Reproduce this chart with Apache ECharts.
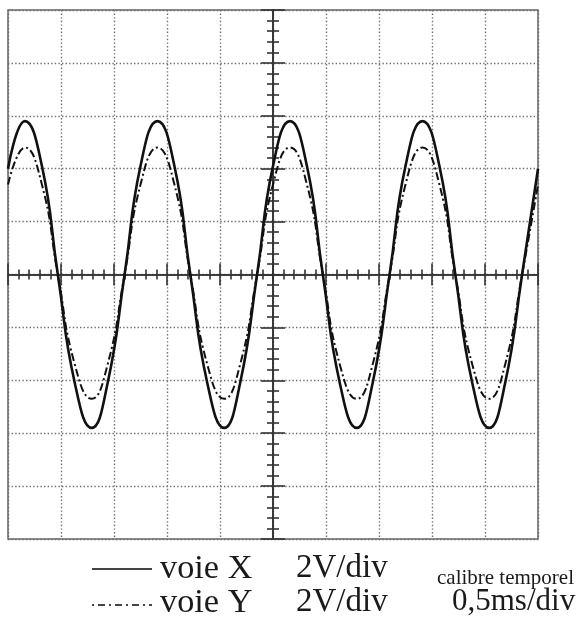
<!DOCTYPE html>
<html>
<head>
<meta charset="utf-8">
<script src="https://cdn.jsdelivr.net/npm/echarts@6/dist/echarts.min.js"></script>
<style>
  html, body { margin: 0; padding: 0; background: #fff; }
  #main { width: 581px; height: 617px; }
</style>
</head>
<body>
<div id="main"></div>
<script>
// temps en ms (0,5 ms/div, 10 div)
var times = [0, 0.16, 0.32, 0.47, 0.63, 0.79, 0.94, 1.10, 1.25, 1.41, 1.57, 1.72, 1.88, 2.04, 2.19, 2.35,
  2.50, 2.66, 2.82, 2.97, 3.13, 3.29, 3.44, 3.60, 3.75, 3.91, 4.07, 4.22, 4.38, 4.54, 4.69, 4.85, 5.00]
// tensions en V (2 V/div)
var voieX = [4.0, 5.8, 4.1, 0, -4.1, -5.8, -4.1, 0, 4.1, 5.8, 4.1, 0, -4.1, -5.8, -4.1, 0,
  4.1, 5.8, 4.1, 0, -4.1, -5.8, -4.1, 0, 4.1, 5.8, 4.1, 0, -4.1, -5.8, -4.1, 0, 4.0]
var voieY = [3.4, 4.8, 3.4, 0, -3.4, -4.7, -3.4, 0, 3.4, 4.8, 3.4, 0, -3.4, -4.7, -3.4, 0,
  3.4, 4.8, 3.4, 0, -3.4, -4.7, -3.4, 0, 3.4, 4.8, 3.4, 0, -3.4, -4.7, -3.4, 0, 3.4]
var legendX = ['voie X', '2V/div']
var legendY = ['voie Y', '2V/div']
var calibre = ['calibre temporel', '0,5ms/div']

function pairs(xs, ys) {
  return xs.map(function(t, i) { return [t, ys[i]] })
}

var serif = 'Liberation Serif, DejaVu Serif, serif'
var axisColor = '#333'
var dotted = { color: '#6f6f6f', width: 1.4, type: [1.4, 2.2] }

function xAx(pos, grid) {
  return {
    type: 'value', min: 0, max: 5, interval: 0.5, position: pos,
    axisLine: { show: true, onZero: true, onZeroAxisIndex: 0, lineStyle: { color: axisColor, width: 1.6 } },
    axisTick: { show: true, length: 11, lineStyle: { color: axisColor, width: 1.6 } },
    minorTick: { show: true, splitNumber: 5, length: 5, lineStyle: { color: axisColor, width: 1.6 } },
    axisLabel: { show: false },
    splitLine: { show: grid, lineStyle: dotted },
    minorSplitLine: { show: false }
  }
}
function yAx(pos, grid) {
  return {
    type: 'value', min: -10, max: 10, interval: 2, position: pos, offset: -265,
    axisLine: { show: true, onZero: false, lineStyle: { color: axisColor, width: 1.6 } },
    axisTick: { show: true, length: 12, lineStyle: { color: axisColor, width: 1.6 } },
    minorTick: { show: true, splitNumber: 5, length: 6, lineStyle: { color: axisColor, width: 1.6 } },
    axisLabel: { show: false },
    splitLine: { show: grid, lineStyle: dotted },
    minorSplitLine: { show: false }
  }
}

function label(txt, x, y, size, sx) {
  return {
    type: 'text', x: x, y: y, scaleX: sx || 1,
    style: { text: txt, x: 0, y: 0, font: size + 'px ' + serif, fill: '#1a1a1a',
      verticalAlign: 'middle', textVerticalAlign: 'middle' }
  }
}

var myChart = echarts.init(document.getElementById('main'))
var option = {
  animation: false,
  backgroundColor: '#fff',
  grid: {
    left: 8, top: 10, width: 530, height: 529,
    show: true, borderColor: '#666', borderWidth: 1.5,
    containLabel: false, outerBoundsMode: 'none'
  },
  xAxis: [xAx('bottom', true), xAx('top', false)],
  yAxis: [yAx('left', true), yAx('right', false)],
  series: [
    {
      name: 'voie X', type: 'line', smooth: 0.5, showSymbol: false, symbol: 'none',
      data: pairs(times, voieX),
      lineStyle: { color: '#111', width: 2.6 }, z: 5
    },
    {
      name: 'voie Y', type: 'line', smooth: 0.5, showSymbol: false, symbol: 'none',
      data: pairs(times, voieY),
      lineStyle: { color: '#111', width: 2, type: [8, 3, 2, 3] }, z: 4
    }
  ],
  graphic: [
    { type: 'line', shape: { x1: 92, y1: 569, x2: 152, y2: 569 }, style: { stroke: '#444', lineWidth: 2 } },
    { type: 'line', shape: { x1: 92, y1: 605, x2: 152, y2: 605 }, style: { stroke: '#444', lineWidth: 2, lineDash: [2, 4, 7, 4] } },
    label(legendX[0], 160, 569, 33, 1.04),
    label(legendX[1], 296, 568, 33),
    label(legendY[0], 160, 603, 33, 1.04),
    label(legendY[1], 296, 602, 33),
    label(calibre[0], 437, 578, 21),
    label(calibre[1], 452, 602, 31)
  ]
}
myChart.setOption(option)
</script>
</body>
</html>
